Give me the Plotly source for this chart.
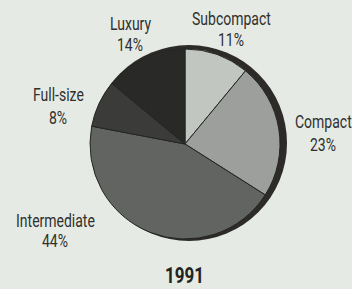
import plotly.graph_objects as go

categories = ["Subcompact", "Compact", "Intermediate", "Full-size", "Luxury"]
shares = [11, 23, 44, 8, 14]
colors = ["#c2c6c1", "#9c9f9b", "#626461", "#3b3c3a", "#292a28"]
title = "1991"

W, H = 352, 289
cx, cy, r = 185, 144, 95

def dom(cx, cy, r):
    return dict(x=[(cx - r) / W, (cx + r) / W], y=[(H - cy - r) / H, (H - cy + r) / H])

fig = go.Figure()
# shadow / rim behind the pie
fig.add_trace(go.Pie(values=[1], marker=dict(colors=["#2d2b29"], line=dict(width=0)),
                     textinfo="none", hoverinfo="skip", sort=False, showlegend=False,
                     domain=dom(cx + 4, cy - 1, r + 3)))
fig.add_trace(go.Pie(labels=categories, values=shares, sort=False, direction="clockwise",
                     rotation=0, marker=dict(colors=colors, line=dict(color="#252624", width=1)),
                     textinfo="none", hoverinfo="label+percent", showlegend=False,
                     domain=dom(cx, cy, r)))

# (x center, name line center y, percent line center y)
label_pos = {
    "Subcompact": (231, 19, 40),
    "Compact": (323, 122, 145),
    "Intermediate": (55, 221, 241),
    "Full-size": (58, 95, 118),
    "Luxury": (130, 24, 45),
}
font = dict(family="Roboto, Liberation Sans, sans-serif", size=14, color="#2f302e")
for c, v in zip(categories, shares):
    x, y1, y2 = label_pos[c]
    fig.add_annotation(x=x / W, y=1 - y1 / H, xref="paper", yref="paper", showarrow=False,
                       text=c, font=font, xanchor="center", yanchor="middle")
    fig.add_annotation(x=x / W, y=1 - y2 / H, xref="paper", yref="paper", showarrow=False,
                       text=f"{v}%", font=font, xanchor="center", yanchor="middle")

fig.add_annotation(x=185 / W, y=1 - 275 / H, xref="paper", yref="paper", showarrow=False,
                   text=f"<b>{title}</b>", xanchor="center", yanchor="middle",
                   font=dict(family="Roboto, Liberation Sans, sans-serif", size=17, color="#222321"))

fig.update_layout(width=W, height=H, margin=dict(l=0, r=0, t=0, b=0),
                  paper_bgcolor="#e6eae4", plot_bgcolor="#e6eae4")

post = """
document.body.style.margin='0';
document.body.style.background='#e6eae4';
document.querySelectorAll('.annotation-text').forEach(function(el){
  var b = el.getBBox();
  var mx = b.x + b.width/2, my = b.y + b.height/2;
  el.setAttribute('transform','translate('+mx+','+my+') scale(1,1.3) translate('+(-mx)+','+(-my)+')');
});
"""
fig.write_html("out.html", post_script=post, config={"displayModeBar": False})
